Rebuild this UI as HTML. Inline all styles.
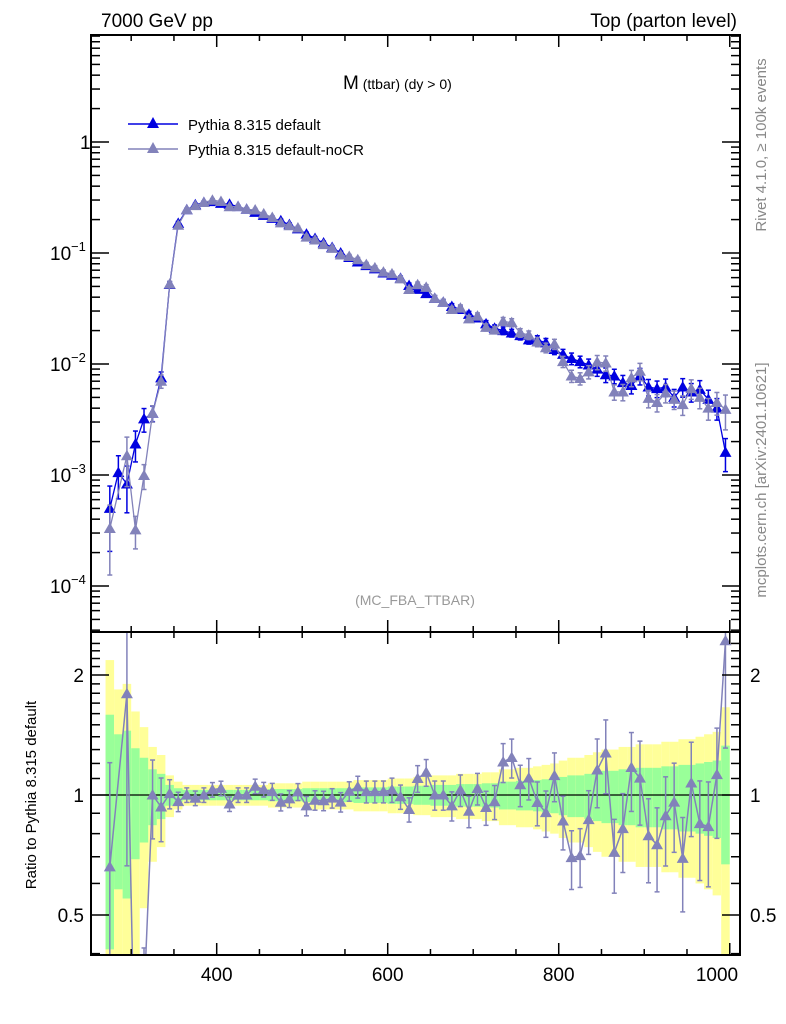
<!DOCTYPE html>
<html><head><meta charset="utf-8"><style>
html,body{margin:0;background:#fff;overflow:hidden;width:786px;height:1024px;}
svg{display:block;font-family:"Liberation Sans",sans-serif;}
</style></head><body>
<svg id="plot" width="786" height="1024" viewBox="0 0 786 1024" xmlns="http://www.w3.org/2000/svg">
<text x="101" y="27" font-size="19">7000 GeV pp</text>
<text x="737" y="27" font-size="19" text-anchor="end">Top (parton level)</text>
<text x="343" y="89" font-size="19">M<tspan font-size="14"> (ttbar) (dy &gt; 0)</tspan></text>
<text x="415" y="605" font-size="14" fill="#999" text-anchor="middle">(MC_FBA_TTBAR)</text>
<text transform="translate(766,145) rotate(-90)" font-size="15" fill="#888" text-anchor="middle">Rivet 4.1.0, ≥ 100k events</text>
<text transform="translate(766,480) rotate(-90)" font-size="15" fill="#888" text-anchor="middle">mcplots.cern.ch [arXiv:2401.10621]</text>
<text transform="translate(36,795) rotate(-90)" font-size="15" text-anchor="middle">Ratio to Pythia 8.315 default</text>
<g id="legend">
<g>
<line x1="128" y1="124" x2="178" y2="124" stroke="#0000e0" stroke-width="1.5"/>
<polygon points="153,117 159,128 147,128" fill="#0000e0"/>
<text x="188" y="130" font-size="15">Pythia 8.315 default</text></g>
<g>
<line x1="128" y1="149" x2="178" y2="149" stroke="#8282ba" stroke-width="1.5"/>
<polygon points="153,142 159,153 147,153" fill="#8282ba"/>
<text x="188" y="155" font-size="15">Pythia 8.315 default-noCR</text></g>
</g>
<g id="bands"></g><g id="marks"></g><g id="axes"></g>
</svg>
<script>
const binCenters=[275,285,295,305,315,325,335,345,355,365,375,385,395,405,415,425,435,445,455,465,475,485,495,505,515,525,535,545,555,565,575,585,595,605,615,625,635,645,655,665,675,685,695,705,715,725,735,745,755,765,775,785,795,805,815,825,835,845,855,865,875,885,895,905,915,925,935,945,955,965,975,985,995];
const defaultValues=[5.0e-4,1.05e-3,8.3e-4,1.9e-3,3.2e-3,3.6e-3,7.5e-3,0.052,0.185,0.245,0.272,0.285,0.29,0.28,0.275,0.262,0.248,0.232,0.218,0.205,0.195,0.180,0.165,0.148,0.135,0.123,0.112,0.100,0.091,0.083,0.077,0.072,0.066,0.063,0.059,0.051,0.047,0.043,0.039,0.036,0.033,0.031,0.028,0.026,0.023,0.021,0.020,0.019,0.018,0.0165,0.0165,0.0155,0.0135,0.0122,0.0112,0.0105,0.0098,0.0090,0.0080,0.0078,0.0068,0.0064,0.0078,0.0062,0.0060,0.0062,0.0050,0.0062,0.0056,0.0059,0.0048,0.0040,0.0016];
const noCRValues=[3.3e-4,null,1.49e-3,3.2e-4,9.9e-4,3.6e-3,7.0e-3,0.0524,0.178,0.245,0.267,0.285,0.299,0.291,0.261,0.262,0.248,0.244,0.225,0.209,0.187,0.176,0.168,0.139,0.131,0.119,0.110,0.096,0.093,0.087,0.0785,0.0734,0.0673,0.0649,0.0584,0.0469,0.0517,0.0490,0.039,0.036,0.0310,0.0319,0.0255,0.0270,0.0214,0.0202,0.0242,0.0236,0.0191,0.0182,0.0158,0.0140,0.0151,0.0105,0.0078,0.0074,0.0085,0.0104,0.0102,0.0056,0.0056,0.0075,0.0086,0.0049,0.0045,0.0055,0.0048,0.0043,0.0060,0.0050,0.0040,0.0045,0.0039];
const relErrors=[0.59,0.42,0.45,0.31,0.24,0.16,0.13,0.06,0.04,0.03,0.03,0.03,0.03,0.03,0.03,0.03,0.03,0.03,0.03,0.035,0.035,0.035,0.035,0.04,0.04,0.04,0.04,0.04,0.04,0.045,0.045,0.045,0.045,0.05,0.05,0.05,0.055,0.055,0.06,0.06,0.06,0.065,0.065,0.065,0.07,0.07,0.08,0.08,0.085,0.085,0.09,0.095,0.10,0.11,0.12,0.12,0.13,0.14,0.15,0.15,0.16,0.16,0.17,0.17,0.17,0.18,0.18,0.19,0.19,0.20,0.21,0.22,0.33];
const xTickLabels=[400,600,800,1000];
const mainTickLabels=[["1",0],["10",-1],["10",-2],["10",-3],["10",-4]];
const ratioTickLabels=[2,1,0.5];

const NS="http://www.w3.org/2000/svg";
const L=91,R=740,T=35,MB=632,RB=955,XMIN=253,XMAX=1012;
const BLUE="#0000e0",GREY="#8282ba";
const xS=v=>L+(v-XMIN)*(R-L)/(XMAX-XMIN);
const yMain=v=>142-Math.log10(v)*111;
const yRatio=r=>795-Math.log2(r)*120;
function mk(tag,parent,attrs){const e=document.createElementNS(NS,tag);for(const k in attrs)e.setAttribute(k,attrs[k]);parent.appendChild(e);return e;}
const bands=document.getElementById('bands'),marks=document.getElementById('marks'),axes=document.getElementById('axes');
const clipR=v=>Math.max(MB,Math.min(RB,v));
const clipM=v=>Math.max(T,Math.min(MB,v));

binCenters.forEach((c,i)=>{
  const e=relErrors[i];const x0=xS(c-5),x1=xS(c+5);
  const yt=clipR(yRatio(1+2*e)),yb=1-2*e>0?clipR(yRatio(1-2*e)):RB;
  const y=mk('rect',bands,{x:x0,y:yt,width:x1-x0,height:yb-yt,fill:'#ffff99'});
  
  
  const gt=clipR(yRatio(1+e)),gb=clipR(yRatio(1-e));
  const g=mk('rect',bands,{x:x0,y:gt,width:x1-x0,height:gb-gt,fill:'#99ff99'});
  
  
});
const refLine=mk('line',bands,{x1:L,x2:R,y1:yRatio(1),y2:yRatio(1),stroke:'#000','stroke-width':1.3});



function tri(parent,x,y,col,name){
  const p=mk('polygon',parent,{points:`${x},${y-6} ${x+6},${y+4.5} ${x-6},${y+4.5}`,fill:col});
  
  
}
function errbar(parent,x,y1,y2,col){
  mk('line',parent,{x1:x,x2:x,y1:y1,y2:y2,stroke:col,'stroke-width':1.5});
  mk('line',parent,{x1:x-2.5,x2:x+2.5,y1:y1,y2:y1,stroke:col,'stroke-width':1.5});
  mk('line',parent,{x1:x-2.5,x2:x+2.5,y1:y2,y2:y2,stroke:col,'stroke-width':1.5});
}
function series(vals,col,name,errScale){
  const g=mk('g',marks,{});
  
  
  let pts=[];
  vals.forEach((v,i)=>{if(v==null)return;pts.push(xS(binCenters[i])+','+yMain(v));});
  mk('polyline',g,{points:pts.join(' '),fill:'none',stroke:col,'stroke-width':1.3});
  vals.forEach((v,i)=>{if(v==null)return;const x=xS(binCenters[i]);const e=relErrors[i]*errScale;
    const lo=v*(1-e)>0?yMain(v*(1-e)):MB;errbar(g,x,clipM(yMain(v*(1+e))),clipM(lo),col);
    tri(g,x,yMain(v),col,name+'-point-'+binCenters[i]);});
}
series(defaultValues,BLUE,'series-default',1);
series(noCRValues,GREY,'series-nocr',1.05);

(function(){
  const g=mk('g',marks,{});
  
  
  const cp=mk('clipPath',g,{id:'rc'});mk('rect',cp,{x:L,y:MB,width:R-L,height:RB-MB});
  const inner=mk('g',g,{'clip-path':'url(#rc)'});
  let pts=[];
  noCRValues.forEach((v,i)=>{if(v==null)return;pts.push(xS(binCenters[i])+','+yRatio(v/defaultValues[i]));});
  mk('polyline',inner,{points:pts.join(' '),fill:'none',stroke:GREY,'stroke-width':1.5});
  noCRValues.forEach((v,i)=>{if(v==null)return;const r=v/defaultValues[i];const x=xS(binCenters[i]);const e=Math.min(relErrors[i]*1.4,0.95);
    errbar(inner,x,yRatio(r*(1+e)),yRatio(r*(1-e)),GREY);
    tri(inner,x,yRatio(r),GREY,'ratio-point-'+binCenters[i]);});
})();

[[T,MB],[MB,RB]].forEach(([a,b],k)=>{
  const f=mk('rect',axes,{x:L,y:a,width:R-L,height:b-a,fill:'none',stroke:'#000','stroke-width':2});
  
  
  for(let v=300;v<=1000;v+=50){const x=xS(v);const len=(v%200===0)?12:6;
    mk('line',axes,{x1:x,x2:x,y1:b,y2:b-len,stroke:'#000','stroke-width':1.5});
    mk('line',axes,{x1:x,x2:x,y1:a,y2:a+len,stroke:'#000','stroke-width':1.5});}
});
for(let d=-5;d<=0;d++){for(let m=1;m<10;m++){const v=m*Math.pow(10,d);const y=yMain(v);if(y<T||y>MB)continue;const len=m===1?18:9;
  mk('line',axes,{x1:L,x2:L+len,y1:y,y2:y,stroke:'#000','stroke-width':1.5});
  mk('line',axes,{x1:R,x2:R-len,y1:y,y2:y,stroke:'#000','stroke-width':1.5});}}
for(let r=0.4;r<=2.5;r+=0.1){const y=yRatio(r);if(y<MB||y>RB)continue;const maj=Math.abs(r-1)<1e-6||Math.abs(r-2)<1e-6||Math.abs(r-0.5)<1e-6;const len=maj?18:9;
  mk('line',axes,{x1:L,x2:L+len,y1:y,y2:y,stroke:'#000','stroke-width':1.5});
  mk('line',axes,{x1:R,x2:R-len,y1:y,y2:y,stroke:'#000','stroke-width':1.5});}
xTickLabels.forEach(v=>{const t=mk('text',axes,{x:Math.min(xS(v),717),y:981,'font-size':19,'text-anchor':'middle'});t.textContent=v;
  
  });
mainTickLabels.forEach(([b,p])=>{const y=yMain(Math.pow(10,p))+7;
  const t=mk('text',axes,{x:p===0?80:50,y:y,'font-size':19});t.textContent=b;
  
  
  if(p!==0){const s=mk('text',axes,{x:71,y:y-9,'font-size':13});s.textContent='−'+(-p);}});
ratioTickLabels.forEach(r=>{const y=yRatio(r)+7;
  const t=mk('text',axes,{x:84,y:y,'font-size':19,'text-anchor':'end'});t.textContent=r;
  
  
  const t2=mk('text',axes,{x:750,y:y,'font-size':19});t2.textContent=r;
  
  });
</script>
</body></html>
